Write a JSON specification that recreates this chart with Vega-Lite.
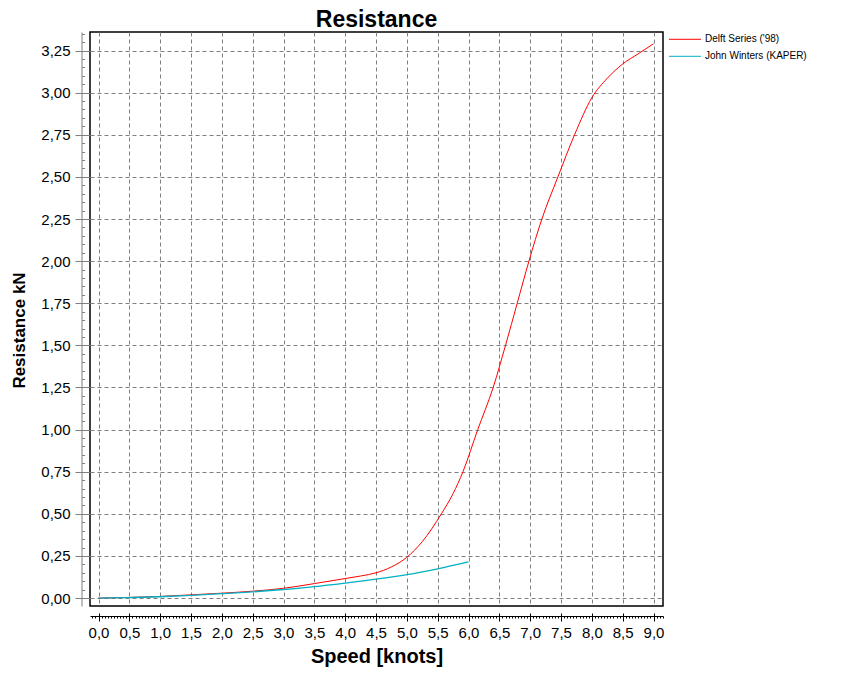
{
  "$schema": "https://vega.github.io/schema/vega-lite/v6.json",
  "width": 573,
  "height": 574,
  "autosize": {"type": "none"},
  "padding": {"left": 90, "top": 32, "right": 178, "bottom": 85},
  "background": "white",
  "title": {"text": "Resistance", "fontSize": 23, "font": "Liberation Sans", "fontWeight": "bold", "color": "#000", "anchor": "middle", "offset": 0},
  "config": {"view": {"stroke": "#000", "strokeWidth": 1.5}, "font": "Liberation Sans"},
  "data": {"values": [
    {"series": "Delft Series ('98)", "speed": 0.0, "resistance": 0.000},
    {"series": "Delft Series ('98)", "speed": 0.5, "resistance": 0.004},
    {"series": "Delft Series ('98)", "speed": 1.0, "resistance": 0.010},
    {"series": "Delft Series ('98)", "speed": 1.5, "resistance": 0.019},
    {"series": "Delft Series ('98)", "speed": 2.0, "resistance": 0.029},
    {"series": "Delft Series ('98)", "speed": 2.5, "resistance": 0.041},
    {"series": "Delft Series ('98)", "speed": 3.0, "resistance": 0.058},
    {"series": "Delft Series ('98)", "speed": 3.5, "resistance": 0.086},
    {"series": "Delft Series ('98)", "speed": 4.0, "resistance": 0.116},
    {"series": "Delft Series ('98)", "speed": 4.25, "resistance": 0.131},
    {"series": "Delft Series ('98)", "speed": 4.5, "resistance": 0.150},
    {"series": "Delft Series ('98)", "speed": 4.75, "resistance": 0.185},
    {"series": "Delft Series ('98)", "speed": 5.0, "resistance": 0.242},
    {"series": "Delft Series ('98)", "speed": 5.25, "resistance": 0.335},
    {"series": "Delft Series ('98)", "speed": 5.56, "resistance": 0.500},
    {"series": "Delft Series ('98)", "speed": 5.75, "resistance": 0.620},
    {"series": "Delft Series ('98)", "speed": 5.91, "resistance": 0.750},
    {"series": "Delft Series ('98)", "speed": 6.15, "resistance": 1.000},
    {"series": "Delft Series ('98)", "speed": 6.4, "resistance": 1.250},
    {"series": "Delft Series ('98)", "speed": 6.6, "resistance": 1.500},
    {"series": "Delft Series ('98)", "speed": 6.79, "resistance": 1.750},
    {"series": "Delft Series ('98)", "speed": 6.98, "resistance": 2.000},
    {"series": "Delft Series ('98)", "speed": 7.19, "resistance": 2.250},
    {"series": "Delft Series ('98)", "speed": 7.45, "resistance": 2.500},
    {"series": "Delft Series ('98)", "speed": 7.72, "resistance": 2.750},
    {"series": "Delft Series ('98)", "speed": 8.0, "resistance": 2.970},
    {"series": "Delft Series ('98)", "speed": 8.25, "resistance": 3.085},
    {"series": "Delft Series ('98)", "speed": 8.5, "resistance": 3.170},
    {"series": "Delft Series ('98)", "speed": 8.75, "resistance": 3.230},
    {"series": "Delft Series ('98)", "speed": 9.0, "resistance": 3.290},
    {"series": "John Winters (KAPER)", "speed": 0.0, "resistance": 0.000},
    {"series": "John Winters (KAPER)", "speed": 0.5, "resistance": 0.003},
    {"series": "John Winters (KAPER)", "speed": 1.0, "resistance": 0.008},
    {"series": "John Winters (KAPER)", "speed": 1.5, "resistance": 0.016},
    {"series": "John Winters (KAPER)", "speed": 2.0, "resistance": 0.026},
    {"series": "John Winters (KAPER)", "speed": 2.5, "resistance": 0.037},
    {"series": "John Winters (KAPER)", "speed": 3.0, "resistance": 0.051},
    {"series": "John Winters (KAPER)", "speed": 3.5, "resistance": 0.068},
    {"series": "John Winters (KAPER)", "speed": 4.0, "resistance": 0.089},
    {"series": "John Winters (KAPER)", "speed": 4.5, "resistance": 0.112},
    {"series": "John Winters (KAPER)", "speed": 5.0, "resistance": 0.139},
    {"series": "John Winters (KAPER)", "speed": 5.5, "resistance": 0.174},
    {"series": "John Winters (KAPER)", "speed": 6.0, "resistance": 0.215}
  ]},
  "layer": [
    {
      "transform": [{"filter": {"field": "series", "equal": "Delft Series ('98)"}}],
      "mark": {"type": "line", "strokeWidth": 1, "interpolate": "monotone"},
      "encoding": {
        "x": {"field": "speed", "type": "quantitative",
          "scale": {"domain": [-0.138, 9.154], "nice": false, "zero": false},
          "axis": {"orient": "bottom", "offset": 7, "values": [0,0.5,1,1.5,2,2.5,3,3.5,4,4.5,5,5.5,6,6.5,7,7.5,8,8.5,9],
            "domain": false, "tickSize": 8, "tickColor": "#000", "tickWidth": 1,
            "labelExpr": "replace(format(datum.value, '.1f'), '.', ',')",
            "labelFont": "Liberation Sans", "labelFontSize": 15, "labelColor": "#000", "labelPadding": 4,
            "labelFlush": false, "labelOverlap": false,
            "grid": true, "gridColor": "#808080", "gridDash": [4, 3], "gridWidth": 1,
            "title": "Speed [knots]", "titleFont": "Liberation Sans", "titleFontSize": 20, "titleFontWeight": "bold", "titleColor": "#000", "titlePadding": 6}},
        "y": {"field": "resistance", "type": "quantitative",
          "scale": {"domain": [-0.047, 3.36], "nice": false, "zero": false},
          "axis": {"orient": "left", "offset": 0, "values": [0,0.25,0.5,0.75,1,1.25,1.5,1.75,2,2.25,2.5,2.75,3,3.25],
            "domain": false, "tickSize": 15, "tickColor": "#808080", "tickWidth": 1,
            "labelExpr": "replace(format(datum.value, '.2f'), '.', ',')",
            "labelFont": "Liberation Sans", "labelFontSize": 15, "labelColor": "#000", "labelPadding": 5,
            "labelFlush": false, "labelOverlap": false,
            "grid": true, "gridColor": "#808080", "gridDash": [4, 3], "gridWidth": 1,
            "title": "Resistance kN", "titleFont": "Liberation Sans", "titleFontSize": 17, "titleFontWeight": "bold", "titleColor": "#000", "titlePadding": 12, "titleY": 298}},
        "color": {"field": "series", "type": "nominal",
          "scale": {"domain": ["Delft Series ('98)", "John Winters (KAPER)"], "range": ["#ff0000", "#00b0c4"]},
          "legend": {"orient": "none", "legendX": 574, "legendY": 2.3, "title": null,
            "symbolType": "M0,0H16", "symbolSize": 16, "symbolStrokeWidth": 1,
            "labelFontSize": 10, "labelFont": "Liberation Sans", "labelColor": "#000",
            "labelOffset": 31, "rowPadding": 7, "padding": 0}}
      }
    },
    {
      "transform": [{"filter": {"field": "series", "equal": "John Winters (KAPER)"}}],
      "mark": {"type": "line", "strokeWidth": 1.3, "interpolate": "monotone"},
      "encoding": {
        "x": {"field": "speed", "type": "quantitative",
          "scale": {"domain": [-0.138, 9.154], "nice": false, "zero": false},
          "axis": {"orient": "bottom", "offset": 10, "tickCount": 186, "domain": true, "domainColor": "#000", "domainWidth": 1,
            "tickSize": 2, "tickColor": "#000", "tickWidth": 1, "labels": false, "grid": false, "title": null}},
        "y": {"field": "resistance", "type": "quantitative",
          "scale": {"domain": [-0.047, 3.36], "nice": false, "zero": false},
          "axis": {"orient": "left", "offset": 8.5, "tickCount": 68, "domain": true, "domainColor": "#808080", "domainWidth": 1,
            "tickSize": -3, "tickColor": "#808080", "tickWidth": 1, "labels": false, "grid": false, "title": null}},
        "color": {"field": "series", "type": "nominal"}
      }
    }
  ],
  "resolve": {"axis": {"x": "independent", "y": "independent"}}
}
